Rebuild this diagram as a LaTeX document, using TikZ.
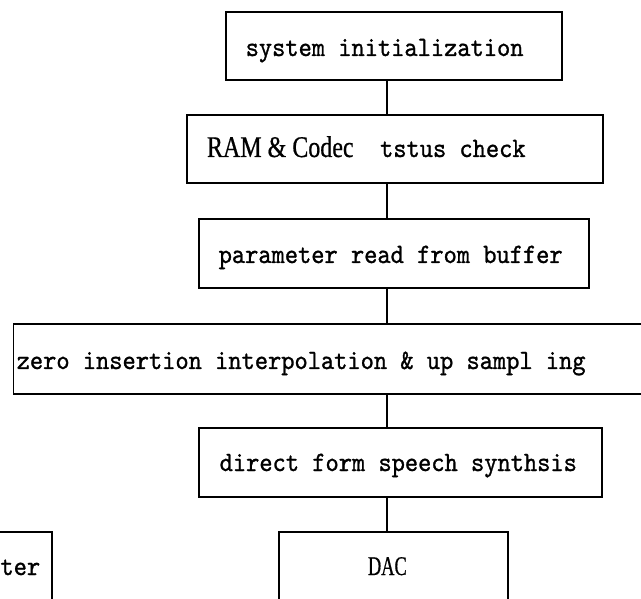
\documentclass[tikz,border=0pt]{standalone}
\usepackage{fontspec}
\setmonofont{lmmono10-regular.otf}[FakeBold=1,FakeStretch=0.9]
\newfontfamily\condser[FakeStretch=0.8,FakeBold=0.6]{Liberation Serif}
\newfontfamily\condserB[FakeStretch=0.68,FakeBold=0.6]{Liberation Serif}
\begin{document}
\begin{tikzpicture}[x=1pt,y=-1pt,
  box/.style={draw=black, line width=1.1pt, rectangle, inner sep=0pt, outer sep=0pt},
  txt/.style={inner sep=0pt, outer sep=0pt, anchor=base west, font=\fontsize{28}{32}\selectfont\ttfamily},
  link/.style={draw=black, line width=1.1pt}]
\useasboundingbox (0,0) rectangle (641,599);
\clip (0,0) rectangle (641,599);
\fill[white] (0,0) rectangle (641,599);
\coordinate (axis) at (387,0);
% boxes
\node[box, minimum width=336pt, minimum height=68pt] (b1) at (394,46) {};
\node[box, minimum width=416pt, minimum height=68pt] (b2) at (395,149) {};
\node[box, minimum width=390pt, minimum height=69pt] (b3) at (394,253.5) {};
\node[box, minimum width=646.5pt, minimum height=70pt] (b4) at (336.75,359) {};
\node[box, minimum width=403pt, minimum height=69pt] (b5) at (400.5,462.5) {};
\node[box, minimum width=229pt, minimum height=98pt] (b6) at (393.5,581) {};
\node[box, minimum width=152pt, minimum height=98pt] (b7) at (-24,581) {};
% texts
\node[txt] (t1) at (245.7,56) {system initialization};
\node[txt] (t2) at (207,157) {{\fontsize{30}{34}\selectfont\condser RAM \& Codec}\ \ tstus check};
\node[txt] (t3) at (218.7,263) {parameter read from buffer};
\node[txt] (t4) at (16.7,369) {zero insertion interpolation \& up sampl ing};
\node[txt] (t5) at (219.7,471) {direct form speech synthsis};
\node[txt] (t6) at (368,575) {\fontsize{27}{30}\selectfont\condserB DAC};
\node[txt] (t7) at (0.5,575) {ter};
% connectors
\draw[link] (b1.south -| axis) -- (b2.north -| axis);
\draw[link] (b2.south -| axis) -- (b3.north -| axis);
\draw[link] (b3.south -| axis) -- (b4.north -| axis);
\draw[link] (b4.south -| axis) -- (b5.north -| axis);
\draw[link] (b5.south -| axis) -- (b6.north -| axis);
\end{tikzpicture}
\end{document}
